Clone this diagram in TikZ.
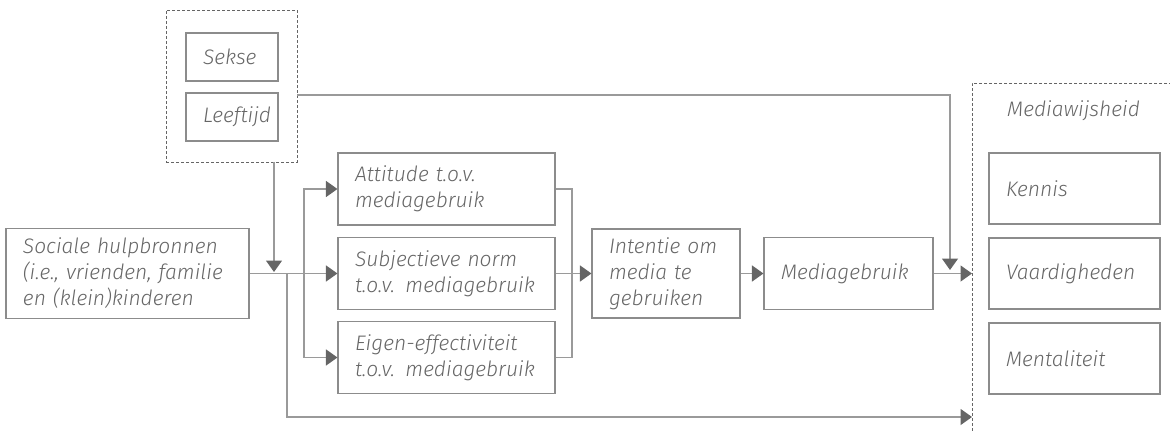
\documentclass[tikz,border=0pt]{standalone}
\usepackage{fontspec}
\setmainfont{Fira Sans Light}
\usetikzlibrary{arrows.meta}
\definecolor{txt}{HTML}{666666}
\definecolor{bord}{HTML}{8C8C8C}
\definecolor{ln}{HTML}{9A9A9A}
\definecolor{tip}{HTML}{656565}
\tikzset{
  box/.style={draw=bord, line width=1.1pt, rectangle, inner xsep=17pt, inner ysep=0pt,
    font=\fontsize{21}{26}\selectfont\itshape, text=txt, align=left},
  dbox/.style={draw=tip, line width=0.8pt, dash pattern=on 3pt off 2pt},
  ln/.style={draw=ln, line width=1.4pt},
  arr/.style={ln, -{Triangle[length=11.5pt,width=16pt,fill=tip,color=tip]}},
}
\newcommand{\bx}[7]{\node[box, minimum width=#3pt, minimum height=#4pt, text width=#5pt] (#1) at (#6,#7) {#2};}
\begin{document}
\begin{tikzpicture}[x=1pt,y=-1pt]
\useasboundingbox (0,0) rectangle (1170,433);
% top dashed group
\node[dbox, minimum width=131pt, minimum height=152pt, inner sep=0pt] (top) at (231.5,86) {};
\bx{sekse}{Sekse}{92}{48}{58}{232}{57}
\bx{leeftijd}{Leeftijd}{92}{48}{58}{232}{117}
% left
\bx{sociale}{Sociale hulpbronnen\\(i.e., vrienden, familie\\en (klein)kinderen}{243}{90}{209}{127.5}{273.5}
% middle column
\bx{attitude}{Attitude t.o.v.\\mediagebruik}{217}{72}{183}{446.5}{189}
\bx{subj}{Subjectieve norm\\t.o.v. mediagebruik}{217}{72}{183}{446.5}{273.5}
\bx{eigen}{Eigen-effectiviteit\\t.o.v. mediagebruik}{217}{72}{183}{446.5}{357.5}
\bx{intentie}{Intentie om\\media te\\gebruiken}{148}{89}{114}{666}{273.5}
\bx{media}{Mediagebruik}{169}{72}{135}{848.5}{273.5}
% right group
\coordinate (rtr) at (1172,83);
\coordinate (rtl) at (972,83);
\coordinate (rbl) at (972,434);
\draw[dbox] (rtr) -- (rtl) -- (rbl);
\node[anchor=west, font=\fontsize{21}{26}\selectfont\itshape, text=txt, inner sep=0pt] (mwlabel) at (1007,111) {Mediawijsheid};
\bx{kennis}{Kennis}{171}{71}{137}{1074.5}{188.5}
\bx{vaard}{Vaardigheden}{171}{71}{137}{1074.5}{273.5}
\bx{mental}{Mentaliteit}{171}{71}{137}{1074.5}{358.5}
% connectors
\coordinate (b1) at (304,273.5);
\coordinate (b2) at (287,273.5);
\coordinate (m1) at (572,273.5);
\coordinate (modtop) at (274,162);
\coordinate (modtip) at (274,272);
\coordinate (t1) at (297,95);
\coordinate (d1) at (950,270);
\coordinate (low) at (287,417);
\coordinate (lowend) at (972,417);
\coordinate (medend) at (972,273.5);
\draw[arr] (sociale.east) -- (subj.west);
\draw[arr] (b1) |- (attitude.west);
\draw[arr] (b1) |- (eigen.west);
\draw[ln] (attitude.east) -| (m1);
\draw[ln] (eigen.east) -| (m1);
\draw[arr] (subj.east) -- (intentie.west);
\draw[arr] (intentie.east) -- (media.west);
\draw[arr] (media.east) -- (medend);
\draw[arr] (modtop) -- (modtip);
\draw[arr] (t1) -| (d1);
\draw[arr] (b2) -- (low) -- (lowend);
\end{tikzpicture}
\end{document}
